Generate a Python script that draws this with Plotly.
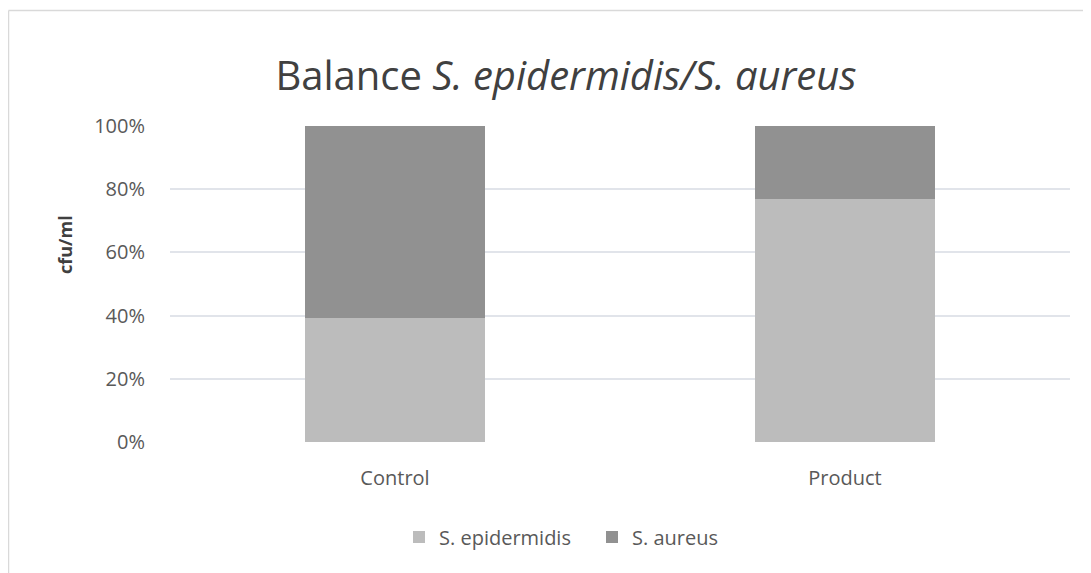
import plotly.graph_objects as go

categories = ["Control", "Product"]
s_epidermidis = [39.4, 77.0]
s_aureus = [60.6, 23.0]
series_names = ["S. epidermidis", "S. aureus"]
tick_vals = [0, 20, 40, 60, 80, 100]
tick_text = ["0%", "20%", "40%", "60%", "80%", "100%"]

FONT = "'Open Sans', Lato, sans-serif"

fig = go.Figure()
fig.add_trace(go.Bar(x=categories, y=s_epidermidis, name=series_names[0],
                     marker=dict(color="#BCBCBC", line=dict(width=0))))
fig.add_trace(go.Bar(x=categories, y=s_aureus, name=series_names[1],
                     marker=dict(color="#919191", line=dict(width=0))))

OFF = 8  # page body margin
W, H = 1091 - OFF, 573 - OFF
L, R, T, B = 170 - OFF, 21, 126 - OFF, 131
pw, ph = W - L - R, H - T - B

def px_x(x):
    return (x - OFF - L) / pw

def px_y(y):
    return (H - B - (y - OFF)) / ph

fig.update_layout(
    width=W, height=H,
    barmode="stack", bargap=0.598,
    plot_bgcolor="white", paper_bgcolor="white",
    margin=dict(l=L, r=R, t=T, b=B),
    font=dict(family=FONT, color="#595959", size=20),
    title=dict(text="Balance <i>S. epidermidis/S. aureus</i>",
               x=(566 - OFF) / W, xanchor="center",
               y=1 - (76 - OFF) / H, yanchor="middle",
               font=dict(size=40, color="#404040", family=FONT)),
    legend=dict(orientation="h", x=px_x(592), xanchor="center",
                y=px_y(537), yanchor="middle",
                font=dict(size=20, color="#595959"),
                itemwidth=30, entrywidth=148, traceorder="normal"),
    xaxis=dict(showgrid=False, showline=False, ticks="", zeroline=False,
               tickfont=dict(size=20, color="#595959"), ticklabelstandoff=22),
    yaxis=dict(range=[0, 100], tickvals=tick_vals, ticktext=tick_text,
               showgrid=True, gridcolor="#E1E4EA", gridwidth=2,
               zeroline=False, showline=False, ticks="",
               tickfont=dict(size=20, color="#595959"), ticklabelstandoff=24),
    annotations=[dict(text="<b>cfu/ml</b>", textangle=-90, xref="paper", yref="paper",
                      x=px_x(65), y=px_y(245), xanchor="center", yanchor="middle",
                      showarrow=False, font=dict(size=18, color="#404040", family=FONT))],
    shapes=[
        dict(type="line", xref="paper", yref="paper", x0=px_x(8.5), x1=px_x(1100),
             y0=px_y(10.5), y1=px_y(10.5), line=dict(color="#D9D9D9", width=1.5)),
        dict(type="line", xref="paper", yref="paper", x0=px_x(8.5), x1=px_x(8.5),
             y0=px_y(10.5), y1=px_y(600), line=dict(color="#D9D9D9", width=1.5)),
    ],
)

fig.write_html("out.html")
